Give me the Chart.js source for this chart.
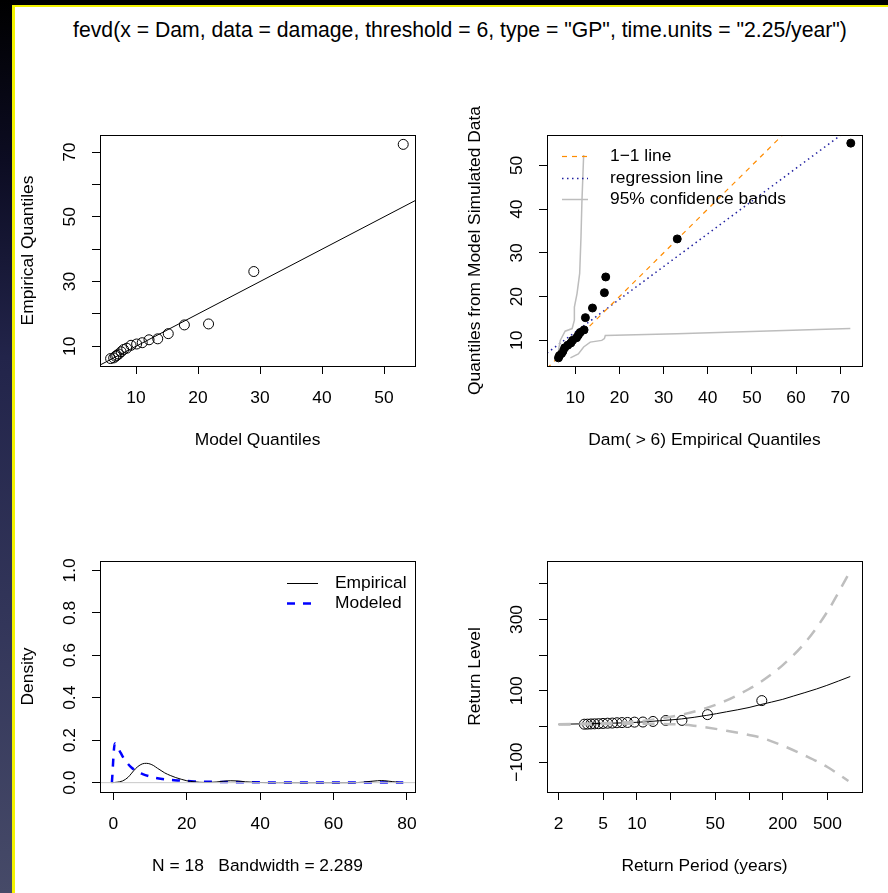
<!DOCTYPE html>
<html>
<head>
<meta charset="utf-8">
<script src="https://cdn.jsdelivr.net/npm/chart.js@4.4.1/dist/chart.umd.min.js"></script>
<style>
  html, body { margin: 0; padding: 0; }
  body { width: 888px; height: 893px; background: #000; position: relative; overflow: hidden;
         font-family: "Liberation Sans", Arial, sans-serif; }
  #faixa { position: absolute; left: 0; top: 0; width: 12px; height: 893px;
           background: linear-gradient(#000 0%, #0c0c22 18%, #22244a 40%, #33365a 70%, #464a68 100%); }
  #folha { position: absolute; left: 12px; top: 5px; width: 876px; height: 888px; background: #fff;
           border-left: 3px solid #f2f200; border-top: 2px solid #f2f200; box-sizing: border-box; }
  #titulo { position: absolute; left: 0; width: 920px; top: 17px; line-height: 26px; text-align: center;
            font-size: 21.2px; color: #000; white-space: nowrap; }
  canvas { position: absolute; }
</style>
</head>
<body>
<div id="faixa"></div>
<div id="folha"></div>
<div id="titulo">fevd(x = Dam, data = damage, threshold = 6, type = "GP", time.units = "2.25/year")</div>
<canvas id="painel1" width="430" height="380" style="left:14px;top:80px"></canvas>
<canvas id="painel2" width="444" height="380" style="left:444px;top:80px"></canvas>
<canvas id="painel3" width="430" height="423" style="left:14px;top:470px"></canvas>
<canvas id="painel4" width="444" height="423" style="left:444px;top:470px"></canvas>
<script>
// ===============================
// DADOS
// ===============================
// amostra ordenada (Dam > 6)
const empiricos = [6.2, 6.4, 6.9, 7.2, 7.6, 8.3, 9.0, 9.4, 10.3, 10.7, 11.1, 12.0, 12.3, 13.9, 16.6, 16.9, 33.1, 72.4];

// painel 1: quantis do modelo x empiricos
const quantisModelo = [5.9, 6.4, 6.7, 6.9, 7.2, 7.6, 8.0, 8.5, 9.2, 10.1, 11.0, 12.1, 13.5, 15.2, 17.8, 21.7, 29.0, 53.1];
const linha11P1 = [4.19, 55.0];
const p1XTicks = [10, 20, 30, 40, 50];
const p1YTicks = [10, 20, 30, 40, 50, 60, 70];
const p1YRotulos = [10, 30, 50, 70];

// painel 2: empiricos x quantis simulados
const quantisSimulados = [6.0, 6.5, 7.0, 7.5, 8.3, 8.9, 9.4, 10.0, 10.6, 11.2, 11.8, 12.4, 15.2, 17.4, 20.9, 24.5, 33.2, 55.1];
const linha11P2 = [3.6, 74.9];
const regressaoX = [3.6, 74.9];
const regressaoY = [7.1, 60.5];
const bandaSupX = [6.2, 6.6, 7.7, 9.3, 9.8, 9.8, 10.4, 11.0, 11.3, 11.5, 11.9];
const bandaSupY = [7.7, 10.0, 12.1, 12.7, 14.6, 17.6, 20.7, 25.3, 33.7, 41.4, 52.4];
const bandaInfX = [8.9, 10.7, 11.9, 13.4, 16.0, 16.6, 16.8, 33.0, 72.3];
const bandaInfY = [6.0, 6.9, 8.5, 9.6, 10.0, 10.4, 11.1, 11.5, 12.7];
const p2XTicks = [10, 20, 30, 40, 50, 60, 70];
const p2YTicks = [10, 20, 30, 40, 50];

// painel 3: densidades
const densEmpX = [-0.5, 1, 2.5, 4, 5, 6, 7, 8, 9, 10, 11, 12, 13, 14, 15.5, 17, 18.5, 20, 22, 25, 28, 30, 32, 34, 36, 39, 45, 55, 65, 68, 70, 72, 73, 74, 76, 78, 79];
const densEmpY = [0, 0.002, 0.008, 0.025, 0.045, 0.065, 0.080, 0.089, 0.091, 0.088, 0.080, 0.068, 0.057, 0.046, 0.034, 0.024, 0.016, 0.009, 0.004, 0.001, 0.003, 0.007, 0.009, 0.008, 0.004, 0.001, 0, 0, 0, 0.002, 0.006, 0.009, 0.010, 0.009, 0.005, 0.001, 0];
const densModX = [-0.4, 0.4, 1, 2, 3, 4, 5, 6.5, 8, 10, 12, 15, 18, 22, 26, 30, 40, 50, 60, 70, 79];
const densModY = [0, 0.185, 0.172, 0.14, 0.11, 0.088, 0.07, 0.052, 0.04, 0.029, 0.021, 0.014, 0.01, 0.006, 0.004, 0.003, 0.0015, 0.001, 0.0006, 0.0004, 0.0003];
const p3XTicks = [0, 20, 40, 60, 80];
const p3YTicks = [0, 0.2, 0.4, 0.6, 0.8, 1.0];

// painel 4: niveis de retorno
const periodoCurva = [2, 3, 5, 10, 16, 25, 42, 63, 100, 126, 200, 248, 400, 494, 800];
const nivelCurva = [6, 7, 8.5, 11.5, 16, 21, 31, 41, 53, 61, 76, 85, 105, 115, 140];
const periodoSup = [2, 5, 10, 16, 25, 42, 63, 100, 126, 200, 316, 500, 770];
const nivelSup = [6, 9, 14, 22, 33, 52, 73, 105, 124, 172, 235, 322, 426];
const periodoInf = [2, 5, 10, 16, 25, 32, 42, 63, 100, 126, 200, 316, 500, 770];
const nivelInf = [5, 6.5, 7.5, 7, 5, 2, -3, -12, -24, -31, -54, -82, -114, -153];
const periodoPontos = [3.39, 3.62, 3.89, 4.19, 4.55, 4.98, 5.47, 6.03, 6.63, 7.35, 8.24, 9.51, 11.3, 13.9, 18.1, 25.2, 42.6, 130];
const p4XTicks = [2, 5, 10, 20, 50, 100, 200, 500];
const p4XRotulos = [2, 5, 10, 50, 200, 500];
const p4YTicks = [-100, 0, 100, 200, 300, 400];
const p4YRotulos = [-100, 100, 300];


// ===============================
// AUXILIARES
// ===============================
const FONTE = '17.4px "Liberation Sans", Arial, sans-serif';

function pares(xs, ys){
  return xs.map((x, i) => ({ x: x, y: ys[i] }));
}

function menos(v){
  return String(v).replace('-', '\u2212');
}

function eixo(tipo, min, max, ticks, tamanho, vertical){
  return {
    type: tipo, min: min, max: max,
    afterBuildTicks: s => { s.ticks = ticks.map(v => ({ value: v })); },
    afterFit: s => { if(vertical) s.width = tamanho; else s.height = tamanho; },
    ticks: { display: false },
    border: { display: false },
    grid: { drawOnChartArea: false, drawTicks: true, tickLength: 8, tickColor: "#000", tickWidth: 1 }
  };
}

function linha(xs, ys, cor, largura, traco, suave){
  return {
    type: "scatter", data: pares(xs, ys), showLine: true,
    borderColor: cor, borderWidth: largura, borderDash: traco || [],
    pointRadius: 0, fill: false,
    cubicInterpolationMode: suave ? "monotone" : "default", tension: 0
  };
}

function pontos(xs, ys, cheio, raio){
  return {
    type: "scatter", data: pares(xs, ys),
    pointRadius: raio, pointHoverRadius: raio,
    pointBorderColor: "#000", pointBorderWidth: 1,
    pointBackgroundColor: cheio ? "#000" : "rgba(0,0,0,0)",
    showLine: false
  };
}

// caixa, rotulos e legenda no estilo do R
const textos = {
  id: "textos",
  afterDraw(chart, args, o){
    const ctx = chart.ctx;
    const a = chart.chartArea;
    const sx = chart.scales.x, sy = chart.scales.y;
    ctx.save();
    ctx.strokeStyle = "#000";
    ctx.lineWidth = 1;
    ctx.setLineDash([]);
    ctx.strokeRect(Math.round(a.left) + 0.5, Math.round(a.top) + 0.5,
                   Math.round(a.right - a.left), Math.round(a.bottom - a.top));
    ctx.fillStyle = "#000";
    ctx.font = FONTE;
    ctx.textAlign = "center";
    ctx.textBaseline = "middle";

    o.xRotulos.forEach(v => ctx.fillText(menos(v), sx.getPixelForValue(v), a.bottom + 32));
    o.yRotulos.forEach(v => {
      ctx.save();
      ctx.translate(a.left - 30, sy.getPixelForValue(v));
      ctx.rotate(-Math.PI / 2);
      ctx.fillText(o.fmtY ? o.fmtY(v) : menos(v), 0, 0);
      ctx.restore();
    });

    ctx.fillText(o.xTitulo, (a.left + a.right) / 2, a.bottom + 74);
    ctx.save();
    ctx.translate(a.left - 72, (a.top + a.bottom) / 2);
    ctx.rotate(-Math.PI / 2);
    ctx.fillText(o.yTitulo, 0, 0);
    ctx.restore();

    (o.legenda || []).forEach(it => {
      const y = Math.round(a.top + it.y) + 0.5;
      ctx.save();
      ctx.strokeStyle = it.cor;
      ctx.lineWidth = it.largura;
      ctx.setLineDash(it.traco || []);
      ctx.beginPath();
      ctx.moveTo(a.left + it.x0, y);
      ctx.lineTo(a.left + it.x1, y);
      ctx.stroke();
      ctx.restore();
      ctx.textAlign = "left";
      ctx.fillText(it.texto, a.left + it.xt, y);
    });
    ctx.restore();
  }
};

function criarPainel(id, datasets, escalas, padding, opcoesTexto){
  return new Chart(document.getElementById(id), {
    type: "scatter",
    data: { datasets: datasets },
    options: {
      responsive: false,
      animation: false,
      devicePixelRatio: 1,
      layout: { padding: padding },
      plugins: { legend: { display: false }, tooltip: { enabled: false }, textos: opcoesTexto },
      scales: escalas
    },
    plugins: [textos]
  });
}


// ===============================
// PAINEIS
// ===============================
Chart.defaults.font.family = '"Liberation Sans", Arial, sans-serif';

criarPainel("painel1",
  [
    linha(linha11P1, linha11P1, "#000", 1),
    pontos(quantisModelo, empiricos, false, 5)
  ],
  {
    x: eixo("linear", 4.19, 55.0, p1XTicks, 94, false),
    y: eixo("linear", 3.9, 75.3, p1YTicks, 86, true)
  },
  { top: 55, right: 29, left: 0, bottom: 0 },
  { xRotulos: p1XTicks, yRotulos: p1YRotulos, xTitulo: "Model Quantiles", yTitulo: "Empirical Quantiles" }
);

criarPainel("painel2",
  [
    linha(bandaSupX, bandaSupY, "#bdbdbd", 1.5),
    linha(bandaInfX, bandaInfY, "#bdbdbd", 1.5),
    pontos(empiricos, quantisSimulados, true, 4),
    linha(linha11P2, linha11P2, "#ff8c00", 1.2, [5, 5]),
    linha(regressaoX, regressaoY, "#2020a0", 1.5, [1.5, 3.5])
  ],
  {
    x: eixo("linear", 3.6, 74.94, p2XTicks, 94, false),
    y: eixo("linear", 4.14, 56.96, p2YTicks, 103, true)
  },
  { top: 55, right: 26, left: 0, bottom: 0 },
  {
    xRotulos: p2XTicks, yRotulos: p2YTicks,
    xTitulo: "Dam( > 6) Empirical Quantiles", yTitulo: "Quantiles from Model Simulated Data",
    legenda: [
      { texto: "1\u22121 line", cor: "#ff8c00", largura: 1.2, traco: [5, 5], x0: 15, x1: 41, xt: 63, y: 21 },
      { texto: "regression line", cor: "#2020a0", largura: 1.5, traco: [1.5, 3.5], x0: 15, x1: 41, xt: 63, y: 43 },
      { texto: "95% confidence bands", cor: "#bdbdbd", largura: 1.5, traco: [], x0: 15, x1: 41, xt: 63, y: 64 }
    ]
  }
);

criarPainel("painel3",
  [
    linha([-3.64, 82.2], [0, 0], "#c8c8c8", 1),
    linha(densEmpX, densEmpY, "#000", 1, [], true),
    linha(densModX, densModY, "#0000ff", 2.5, [8, 8], true)
  ],
  {
    x: eixo("linear", -3.64, 82.2, p3XTicks, 101, false),
    y: eixo("linear", -0.044, 1.044, p3YTicks, 86, true)
  },
  { top: 91, right: 29, left: 0, bottom: 0 },
  {
    xRotulos: p3XTicks, yRotulos: p3YTicks, fmtY: v => v.toFixed(1),
    xTitulo: "N = 18   Bandwidth = 2.289", yTitulo: "Density",
    legenda: [
      { texto: "Empirical", cor: "#000", largura: 1, traco: [], x0: 187, x1: 218, xt: 235, y: 22 },
      { texto: "Modeled", cor: "#0000ff", largura: 2.5, traco: [8, 8], x0: 187, x1: 218, xt: 235, y: 42 }
    ]
  }
);

criarPainel("painel4",
  [
    linha(periodoSup, nivelSup, "#bebebe", 2.5, [12, 9], true),
    linha(periodoInf, nivelInf, "#bebebe", 2.5, [12, 9], true),
    linha(periodoCurva, nivelCurva, "#000", 1, [], true),
    pontos(periodoPontos, empiricos, false, 5)
  ],
  {
    x: eixo("logarithmic", 1.576, 1018, p4XTicks, 101, false),
    y: eixo("linear", -184, 464, p4YTicks, 103, true)
  },
  { top: 91, right: 26, left: 0, bottom: 0 },
  {
    xRotulos: p4XRotulos, yRotulos: p4YRotulos,
    xTitulo: "Return Period (years)", yTitulo: "Return Level"
  }
);
</script>
</body>
</html>
